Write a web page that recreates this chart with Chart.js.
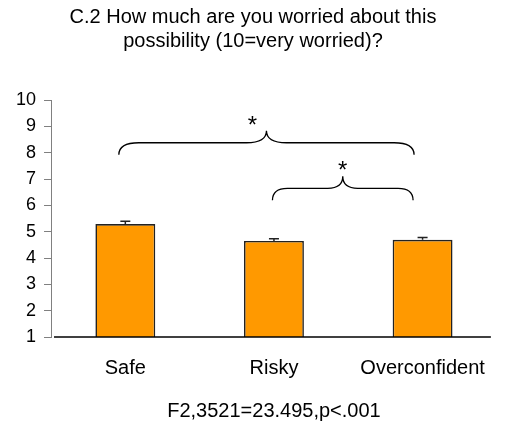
<!DOCTYPE html>
<html>
<head>
<meta charset="utf-8">
<script src="https://cdn.jsdelivr.net/npm/chart.js@4"></script>
<style>
  html, body { margin: 0; padding: 0; background: #fff; }
  #wrap { width: 505px; height: 428px; }
</style>
</head>
<body>
<div id="wrap"><canvas id="chart"></canvas></div>
<script>
const ctx = document.querySelector("#chart");

const labels = ["Safe", "Risky", "Overconfident"];
const means = [5.29, 4.65, 4.69];
const errors = [0.11, 0.08, 0.09];
const yTicks = [1, 2, 3, 4, 5, 6, 7, 8, 9, 10];
// significant pairwise comparisons (category indexes)
const pairs = [[0, 2], [1, 2]];
const pairMarks = ["*", "*"];

const FONT = "'Liberation Sans', Arial, sans-serif";

// error bars on top of each bar
const errorBars = {
    id: "errorBars",
    afterDatasetsDraw(chart) {
        const y = chart.scales.y;
        const meta = chart.getDatasetMeta(0);
        const c = chart.ctx;
        c.save();
        c.strokeStyle = "#222";
        c.lineWidth = 1.5;
        meta.data.forEach((bar, i) => {
            const top = y.getPixelForValue(means[i] + errors[i]);
            c.beginPath();
            c.moveTo(bar.x, bar.y);
            c.lineTo(bar.x, top);
            c.moveTo(bar.x - 5, top);
            c.lineTo(bar.x + 5, top);
            c.stroke();
        });
        c.restore();
    }
};

// x axis line, a bit shorter than the plot area
const baseLine = {
    id: "baseLine",
    afterDatasetsDraw(chart) {
        const a = chart.chartArea;
        const c = chart.ctx;
        c.save();
        c.strokeStyle = "#000";
        c.lineWidth = 1.5;
        c.beginPath();
        c.moveTo(a.left + 3, a.bottom);
        c.lineTo(a.right - 6, a.bottom);
        c.stroke();
        c.restore();
    }
};

// curly braces with significance stars
const braces = {
    id: "braces",
    afterDraw(chart, args, opts) {
        const x = chart.scales.x, y = chart.scales.y;
        const c = chart.ctx;
        c.save();
        c.strokeStyle = "#000";
        c.lineWidth = 1.3;
        pairs.forEach((p, i) => {
            const x1 = x.getPixelForValue(p[0]) + opts.leftShift[i];
            const x2 = x.getPixelForValue(p[1]) + opts.rightShift[i];
            const xm = (x1 + x2) / 2;
            const yb = y.getPixelForValue(opts.base[i]);
            const yl = yb - opts.rise;
            const yp = yl - opts.rise;
            const r = opts.radius[i];
            c.beginPath();
            c.moveTo(x1, yb);
            c.quadraticCurveTo(x1, yl, x1 + r, yl);
            c.lineTo(xm - r, yl);
            c.quadraticCurveTo(xm, yl, xm, yp);
            c.quadraticCurveTo(xm, yl, xm + r, yl);
            c.lineTo(x2 - r, yl);
            c.quadraticCurveTo(x2, yl, x2, yb);
            c.stroke();
            c.fillStyle = "#000";
            c.font = "24px " + FONT;
            c.textAlign = "center";
            c.textBaseline = "alphabetic";
            c.fillText(pairMarks[i], xm + opts.starShift[i], yp + 2);
        });
        c.restore();
    }
};

const data = {
    labels: labels,
    datasets: [
        {
            data: means,
            backgroundColor: "#FF9900",
            borderColor: "#222",
            borderWidth: 1.6,
            barPercentage: 0.403,
            categoryPercentage: 1,
        },
    ],
};

const config = {
    type: "bar",
    data: data,
    plugins: [errorBars, baseLine, braces],
    options: {
        responsive: true,
        maintainAspectRatio: false,
        animation: false,
        layout: {
            padding: { left: 8, right: 7, top: 0, bottom: 0 }
        },
        plugins: {
            legend: { display: false },
            tooltip: { enabled: false },
            title: {
                display: true,
                text: ["C.2 How much are you worried about this", "possibility (10=very worried)?"],
                color: "#000",
                font: { family: FONT, size: 20, weight: "normal", lineHeight: 1.2 },
                padding: { top: 5, bottom: 47 },
            },
            braces: {
                base: [7.92, 6.19],
                rise: 12,
                leftShift: [-6.5, -1.5],
                rightShift: [-8.5, -9.5],
                radius: [20, 15],
                starShift: [-14, 0],
            },
        },
        scales: {
            x: {
                grid: { display: false, drawTicks: false },
                border: { display: false },
                ticks: {
                    color: "#000",
                    padding: 19,
                    font: { family: FONT, size: 20 },
                },
                title: {
                    display: true,
                    text: "F2,3521=23.495,p<.001",
                    color: "#000",
                    font: { family: FONT, size: 20, lineHeight: 1.2 },
                    padding: { top: 0, bottom: 5 },
                },
            },
            y: {
                min: yTicks[0],
                max: yTicks[yTicks.length - 1],
                afterBuildTicks(scale) {
                    scale.ticks = yTicks.map(v => ({ value: v }));
                },
                grid: {
                    drawOnChartArea: false,
                    tickLength: 7,
                    tickColor: "#808080",
                },
                border: { color: "#808080", width: 1 },
                ticks: {
                    color: "#000",
                    padding: 8,
                    autoSkip: false,
                    font: { family: FONT, size: 18 },
                },
            },
        },
    },
};

new Chart(ctx, config);
</script>
</body>
</html>
